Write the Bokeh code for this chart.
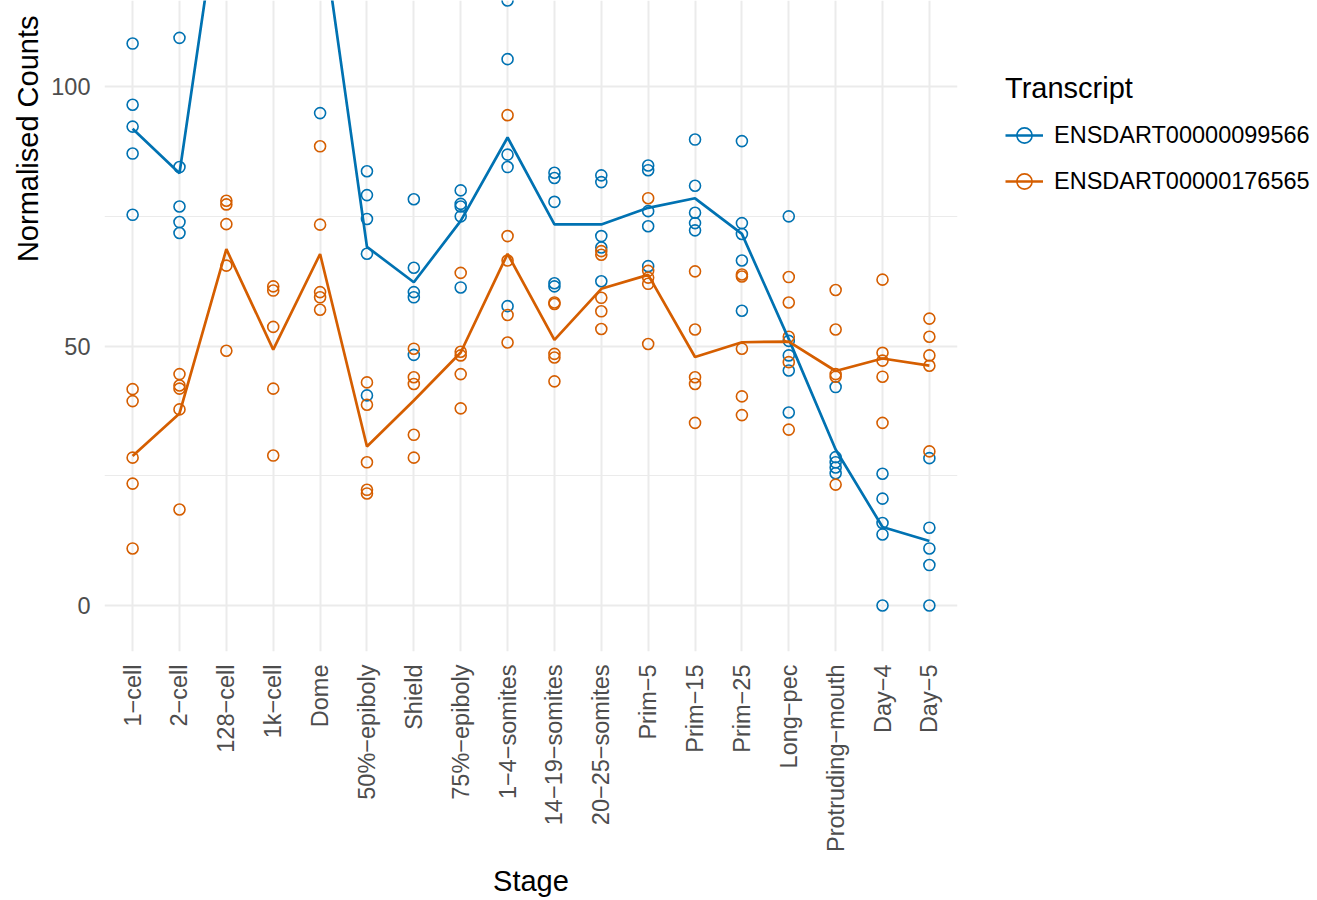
import numpy as np
from math import pi
from bokeh.plotting import figure
from bokeh.models import (ColumnDataSource, Range1d, FixedTicker, Legend, LegendItem, Title)
from bokeh.embed import file_html
from bokeh.resources import INLINE

stages = ["1\u2212cell", "2\u2212cell", "128\u2212cell", "1k\u2212cell", "Dome", "50%\u2212epiboly",
          "Shield", "75%\u2212epiboly", "1\u22124\u2212somites", "14\u221219\u2212somites",
          "20\u221225\u2212somites", "Prim\u22125", "Prim\u221215", "Prim\u221225", "Long\u2212pec",
          "Protruding\u2212mouth", "Day\u22124", "Day\u22125"]

transcripts = ["ENSDART00000099566", "ENSDART00000176565"]

counts_099566 = [
    [108.3, 96.5, 92.3, 87.1, 75.3],
    [109.4, 84.5, 76.9, 73.9, 71.8],
    [124.0, 136.0, 144.0, 153.0, 168.0],
    [128.0, 145.0, 158.0, 170.0, 189.0],
    [94.9, 121.0, 136.0, 149.0, 165.0],
    [83.7, 79.1, 74.5, 67.8, 40.5],
    [78.3, 65.1, 60.4, 59.4, 48.3],
    [80.0, 77.4, 76.9, 75.0, 61.3],
    [116.6, 105.3, 86.9, 84.5, 57.7],
    [83.4, 82.4, 77.8, 62.1, 61.5],
    [82.9, 81.6, 71.2, 69.0, 62.5],
    [84.8, 83.9, 76.0, 73.1, 65.4],
    [89.8, 80.9, 75.7, 73.7, 72.3],
    [89.5, 73.7, 71.6, 66.5, 56.8],
    [75.0, 51.0, 48.2, 45.3, 37.2],
    [42.1, 28.6, 27.6, 26.6, 25.5],
    [25.4, 20.6, 15.9, 13.7, 0.0],
    [28.4, 15.0, 11.0, 7.8, 0.0],
]

counts_176565 = [
    [41.7, 39.4, 28.5, 23.5, 11.0],
    [44.6, 42.4, 41.8, 37.8, 18.5],
    [78.0, 77.3, 73.5, 65.5, 49.1],
    [61.5, 60.7, 53.7, 41.8, 28.9],
    [88.5, 73.4, 60.4, 59.4, 57.0],
    [43.0, 38.7, 27.6, 22.3, 21.6],
    [49.5, 44.0, 42.7, 32.9, 28.5],
    [64.1, 48.9, 48.2, 44.6, 38.0],
    [94.5, 71.2, 66.5, 56.0, 50.7],
    [58.4, 58.1, 48.5, 47.8, 43.2],
    [68.3, 67.6, 59.3, 56.7, 53.3],
    [78.5, 64.5, 63.2, 62.0, 50.4],
    [64.4, 53.2, 44.0, 42.7, 35.2],
    [63.8, 63.4, 49.5, 40.3, 36.7],
    [63.3, 58.4, 51.8, 46.9, 33.9],
    [60.8, 53.2, 44.6, 44.1, 23.3],
    [62.8, 48.7, 47.2, 44.1, 35.2],
    [55.3, 51.8, 48.2, 46.2, 29.7],
]

colors = ["#0072B2", "#D55E00"]
y_ticks = [0, 50, 100]
y_minor = [25, 75]

FONT = "Liberation Sans"
FRAME_W, FRAME_H = 853, 651

p = figure(frame_width=FRAME_W, frame_height=FRAME_H, output_backend="svg",
           toolbar_location=None, min_border_left=104, min_border_right=360,
           min_border_top=0, min_border_bottom=10,
           x_range=Range1d(-0.6, len(stages) - 0.4),
           y_range=Range1d(-8.86, 116.6))
p.outline_line_color = None
p.background_fill_color = "white"
p.border_fill_color = "white"

point_rs, line_rs = [], []
for counts, col in zip([counts_099566, counts_176565], colors):
    xs, ys = [], []
    for i, vals in enumerate(counts):
        xs += [i] * len(vals)
        ys += vals
    src = ColumnDataSource(dict(x=xs, y=ys))
    point_rs.append(p.scatter("x", "y", source=src, marker="circle", size=11,
                              fill_color=None, line_color=col, line_width=1.6))
for counts, col in zip([counts_099566, counts_176565], colors):
    means = [float(np.mean(v)) for v in counts]
    lsrc = ColumnDataSource(dict(x=list(range(len(stages))), y=means))
    line_rs.append(p.line("x", "y", source=lsrc, line_color=col, line_width=2.7))

# legend key glyphs (smaller circles, as in the key); a single NaN row draws nothing in the plot
key_rs = []
for col in colors:
    nan_src = ColumnDataSource(dict(x=[float("nan")], y=[float("nan")]))
    kl = p.line("x", "y", source=nan_src, line_color=col, line_width=2.7)
    kp = p.scatter("x", "y", source=nan_src, marker="circle", size=8.5,
                   fill_color=None, line_color=col, line_width=1.6)
    key_rs.append([kl, kp])

# axes
p.xaxis.ticker = FixedTicker(ticks=list(range(len(stages))))
p.xaxis.major_label_overrides = {i: s for i, s in enumerate(stages)}
p.xaxis.major_label_orientation = pi / 2
p.yaxis.ticker = FixedTicker(ticks=y_ticks, minor_ticks=y_minor)
for ax in (p.xaxis, p.yaxis):
    ax.axis_line_color = None
    ax.major_tick_line_color = None
    ax.minor_tick_line_color = None
    ax.major_label_text_font = FONT
    ax.major_label_text_font_size = "23.5px"
    ax.major_label_text_color = "#4D4D4D"
p.xaxis.major_label_standoff = 7
p.yaxis.major_label_standoff = 8
p.xaxis.axis_label = "Stage"
p.xaxis.axis_label_text_font = FONT
p.xaxis.axis_label_text_font_size = "29px"
p.xaxis.axis_label_text_font_style = "normal"
p.xaxis.axis_label_text_color = "black"
p.xaxis.axis_label_standoff = 10

p.xgrid.ticker = FixedTicker(ticks=list(range(len(stages))))
p.xgrid.grid_line_color = "#EBEBEB"
p.xgrid.grid_line_width = 2
p.ygrid.grid_line_color = "#EBEBEB"
p.ygrid.grid_line_width = 2
p.ygrid.minor_grid_line_color = "#EBEBEB"
p.ygrid.minor_grid_line_width = 1

ytitle = Title(text="Normalised Counts", align="right", offset=10,
               text_font=FONT, text_font_size="29px", text_font_style="normal",
               text_color="black", standoff=0, padding=5)
p.add_layout(ytitle, "left")

items = [LegendItem(label=t, renderers=key_rs[k]) for k, t in enumerate(transcripts)]
legend = Legend(items=items, location=(48, FRAME_H - 204), title="Transcript",
                title_text_font=FONT, title_text_font_size="29px", title_text_font_style="normal",
                title_text_color="black", title_standoff=7,
                label_text_font=FONT, label_text_font_size="23.5px", label_text_color="black",
                glyph_width=38, glyph_height=46, label_height=46, label_standoff=11,
                spacing=0, padding=0, margin=0, border_line_color=None,
                background_fill_alpha=0)
p.add_layout(legend, "right")

open("out.html", "w").write(file_html(p, INLINE))
